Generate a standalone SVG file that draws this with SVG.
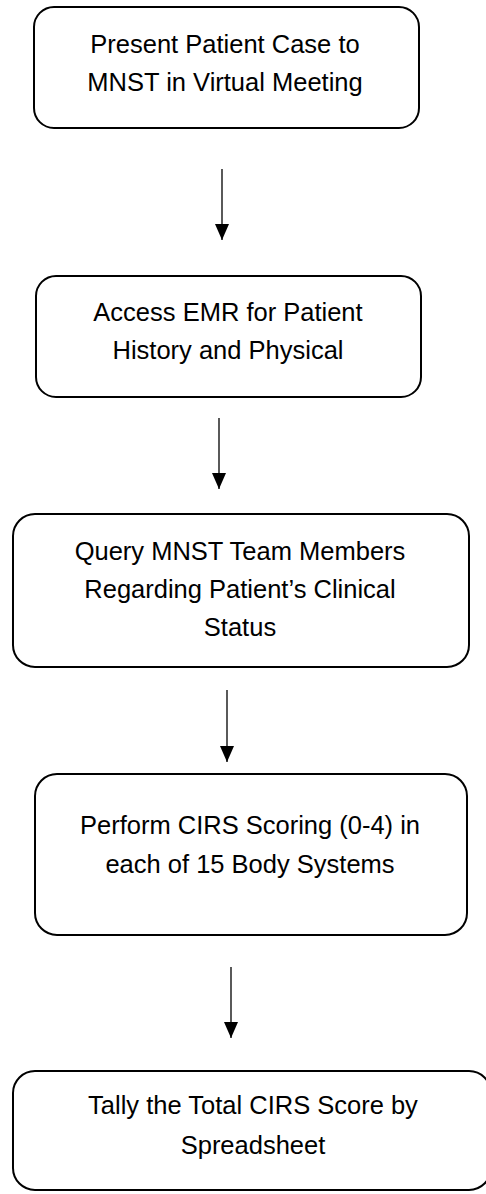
<svg xmlns="http://www.w3.org/2000/svg" width="486" height="1194" viewBox="0 0 486 1194">
<defs>
<style>
.box{fill:#fff;stroke:#000;stroke-width:2}
.t{font-family:"Liberation Sans",Arial,sans-serif;font-size:25.5px;fill:#000;text-anchor:middle}
.c{stroke:#000;stroke-width:1.3;fill:none}
</style>
<marker id="ah" markerWidth="16" markerHeight="14" refX="16" refY="7" orient="auto" markerUnits="userSpaceOnUse" viewBox="0 0 16 14">
<path d="M0,0 L16,7 L0,14 Z" fill="#000"/>
</marker>
</defs>
<rect width="486" height="1194" fill="#fff"/>
<g id="n1">
<rect class="box" x="34" y="7" width="385" height="121" rx="20"/>
<text class="t" x="225" y="53">Present Patient Case to</text>
<text class="t" x="225" y="91">MNST in Virtual Meeting</text>
</g>
<g id="n2">
<rect class="box" x="36" y="276" width="385" height="121" rx="20"/>
<text class="t" x="228" y="321">Access EMR for Patient</text>
<text class="t" x="228" y="359">History and Physical</text>
</g>
<g id="n3">
<rect class="box" x="13" y="514" width="456" height="153" rx="22"/>
<text class="t" x="240" y="560">Query MNST Team Members</text>
<text class="t" x="240" y="598">Regarding Patient’s Clinical</text>
<text class="t" x="240" y="636">Status</text>
</g>
<g id="n4">
<rect class="box" x="35" y="774" width="432" height="161" rx="22"/>
<text class="t" x="250" y="834">Perform CIRS Scoring (0-4) in</text>
<text class="t" x="250" y="873">each of 15 Body Systems</text>
</g>
<g id="n5">
<rect class="box" x="13" y="1071" width="478" height="119" rx="22"/>
<text class="t" x="253" y="1114">Tally the Total CIRS Score by</text>
<text class="t" x="253" y="1154">Spreadsheet</text>
</g>
<g id="connectors">
<line class="c" x1="222" y1="169" x2="222" y2="240" marker-end="url(#ah)"/>
<line class="c" x1="219" y1="418" x2="219" y2="489" marker-end="url(#ah)"/>
<line class="c" x1="227" y1="690" x2="227" y2="762" marker-end="url(#ah)"/>
<line class="c" x1="231" y1="967" x2="231" y2="1038" marker-end="url(#ah)"/>
</g>
</svg>
